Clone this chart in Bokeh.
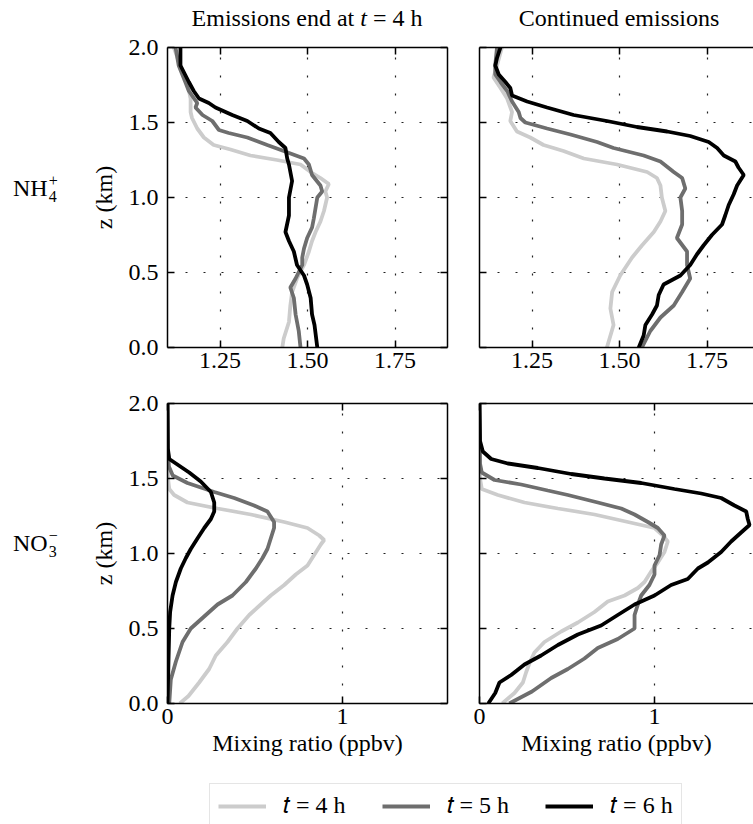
from bokeh.plotting import figure
from bokeh.models import (Div, Spacer, FixedTicker, PrintfTickFormatter, CustomJSTickFormatter,
                          LinearAxis, Range1d, Legend, LegendItem)
from bokeh.layouts import row, column
from bokeh.embed import file_html
from bokeh.resources import INLINE

FONT = "Liberation Serif"
FS = "24px"

# ---- axes ticks ---------------------------------------------------------
z_ticks = [0.0, 0.5, 1.0, 1.5, 2.0]
nh4_ticks = [1.25, 1.50, 1.75]
no3_ticks = [0, 1]

series_labels = ["𝑡 = 4 h", "𝑡 = 5 h", "𝑡 = 6 h"]
series_colors = ["#cccccc", "#6e6e6e", "#000000"]

# ---- NH4+ , emissions end at t = 4 h ------------------------------------
nh4_end_z_4h = [0.00, 0.06, 0.17, 0.28, 0.37, 0.46, 0.55, 0.64, 0.71, 0.77, 0.84, 0.91, 1.00, 1.04, 1.09,
                1.13, 1.17, 1.22, 1.25, 1.28, 1.32, 1.35, 1.40, 1.46, 1.53, 1.57, 1.66, 1.77, 1.88, 2.00]
nh4_end_x_4h = [1.428, 1.432, 1.447, 1.451, 1.456, 1.470, 1.490, 1.504, 1.513, 1.523, 1.537, 1.547, 1.556,
                1.551, 1.561, 1.537, 1.509, 1.480, 1.413, 1.337, 1.280, 1.232, 1.204, 1.185, 1.170, 1.166,
                1.166, 1.156, 1.137, 1.118]

nh4_end_z_5h = [0.00, 0.11, 0.22, 0.33, 0.40, 0.46, 0.55, 0.60, 0.66, 0.73, 0.80, 0.86, 0.93, 1.00, 1.04, 1.08,
                1.15, 1.22, 1.26, 1.31, 1.35, 1.40, 1.43, 1.45, 1.51, 1.55, 1.60, 1.63, 1.71, 1.77, 1.88, 2.00]
nh4_end_x_5h = [1.480, 1.475, 1.466, 1.461, 1.451, 1.466, 1.485, 1.485, 1.490, 1.499, 1.513, 1.518, 1.523,
                1.528, 1.542, 1.537, 1.513, 1.504, 1.490, 1.432, 1.385, 1.328, 1.275, 1.247, 1.228, 1.200,
                1.180, 1.185, 1.161, 1.151, 1.132, 1.123]

nh4_end_z_6h = [0.00, 0.15, 0.22, 0.33, 0.42, 0.48, 0.55, 0.64, 0.71, 0.77, 0.88, 1.00, 1.11, 1.22, 1.26,
                1.33, 1.37, 1.43, 1.46, 1.51, 1.55, 1.60, 1.63, 1.66, 1.71, 1.77, 1.88, 2.00]
nh4_end_x_6h = [1.528, 1.520, 1.513, 1.509, 1.499, 1.490, 1.470, 1.461, 1.447, 1.437, 1.447, 1.447, 1.456,
                1.447, 1.442, 1.437, 1.418, 1.394, 1.361, 1.328, 1.285, 1.237, 1.218, 1.190, 1.175, 1.161,
                1.137, 1.137]

# ---- NH4+ , continued emissions -----------------------------------------
nh4_cont_z_4h = [0.00, 0.15, 0.26, 0.37, 0.48, 0.60, 0.68, 0.77, 0.84, 0.91, 1.00, 1.08, 1.13, 1.17, 1.22,
                 1.26, 1.31, 1.35, 1.40, 1.44, 1.51, 1.57, 1.66, 1.73, 1.80, 1.88, 2.00]
nh4_cont_x_4h = [1.464, 1.483, 1.474, 1.479, 1.502, 1.536, 1.564, 1.598, 1.617, 1.631, 1.621, 1.617, 1.607,
                 1.579, 1.493, 1.398, 1.340, 1.283, 1.245, 1.207, 1.188, 1.193, 1.179, 1.160, 1.140, 1.150,
                 1.164]

nh4_cont_z_5h = [0.00, 0.11, 0.20, 0.28, 0.37, 0.46, 0.55, 0.64, 0.73, 0.82, 0.91, 1.00, 1.06, 1.13, 1.17,
                 1.24, 1.28, 1.33, 1.37, 1.42, 1.46, 1.50, 1.53, 1.57, 1.64, 1.71, 1.77, 1.82, 1.88, 2.00]
nh4_cont_x_5h = [1.564, 1.588, 1.617, 1.655, 1.679, 1.702, 1.693, 1.693, 1.664, 1.679, 1.679, 1.674, 1.688,
                 1.679, 1.655, 1.617, 1.569, 1.483, 1.436, 1.360, 1.293, 1.231, 1.217, 1.212, 1.193, 1.179,
                 1.160, 1.145, 1.145, 1.150]

nh4_cont_z_6h = [0.00, 0.08, 0.15, 0.22, 0.28, 0.35, 0.42, 0.48, 0.55, 0.62, 0.68, 0.75, 0.82, 0.88, 0.95,
                 1.02, 1.08, 1.15, 1.20, 1.24, 1.28, 1.33, 1.37, 1.41, 1.44, 1.47, 1.51, 1.55, 1.60, 1.64,
                 1.68, 1.73, 1.77, 1.82, 1.88, 1.93, 2.00]
nh4_cont_x_6h = [1.555, 1.569, 1.574, 1.593, 1.607, 1.612, 1.626, 1.674, 1.702, 1.721, 1.740, 1.764, 1.793,
                 1.802, 1.812, 1.826, 1.836, 1.855, 1.840, 1.831, 1.798, 1.779, 1.755, 1.702, 1.636, 1.550,
                 1.464, 1.369, 1.293, 1.236, 1.193, 1.188, 1.174, 1.155, 1.145, 1.150, 1.160]

# ---- NO3- , emissions end at t = 4 h ------------------------------------
no3_end_z_4h = [0.00, 0.05, 0.14, 0.23, 0.32, 0.41, 0.50, 0.59, 0.66, 0.72, 0.79, 0.86, 0.92, 0.99, 1.06,
                1.09, 1.12, 1.17, 1.21, 1.26, 1.30, 1.34, 1.39, 1.43, 1.50, 2.00]
no3_end_x_4h = [0.070, 0.120, 0.181, 0.238, 0.276, 0.343, 0.400, 0.467, 0.533, 0.590, 0.667, 0.733, 0.800,
                0.838, 0.876, 0.895, 0.867, 0.800, 0.667, 0.476, 0.286, 0.114, 0.038, 0.010, 0.003, 0.000]

no3_end_z_5h = [0.00, 0.16, 0.28, 0.41, 0.50, 0.59, 0.66, 0.72, 0.81, 0.90, 0.97, 1.03, 1.10, 1.17, 1.21,
                1.28, 1.32, 1.37, 1.41, 1.47, 1.52, 1.58, 1.70, 2.00]
no3_end_x_5h = [0.010, 0.019, 0.048, 0.086, 0.133, 0.219, 0.286, 0.371, 0.448, 0.505, 0.543, 0.571, 0.590,
                0.609, 0.609, 0.571, 0.495, 0.381, 0.267, 0.114, 0.030, 0.008, 0.002, 0.000]

no3_end_z_6h = [0.00, 0.50, 0.61, 0.72, 0.81, 0.90, 0.97, 1.03, 1.10, 1.17, 1.23, 1.28, 1.34, 1.41, 1.48,
                1.54, 1.60, 1.63, 1.70, 2.00]
no3_end_x_6h = [0.000, 0.010, 0.015, 0.029, 0.048, 0.076, 0.105, 0.133, 0.171, 0.210, 0.248, 0.267, 0.267,
                0.248, 0.190, 0.124, 0.048, 0.010, 0.002, 0.000]

# ---- NO3- , continued emissions -----------------------------------------
no3_cont_z_4h = [0.00, 0.07, 0.14, 0.21, 0.27, 0.34, 0.41, 0.48, 0.54, 0.61, 0.68, 0.72, 0.77, 0.81, 0.88,
                 0.94, 1.01, 1.08, 1.12, 1.17, 1.21, 1.26, 1.30, 1.34, 1.39, 1.43, 1.50, 2.00]
no3_cont_x_4h = [0.130, 0.200, 0.248, 0.267, 0.286, 0.314, 0.371, 0.467, 0.562, 0.657, 0.733, 0.829, 0.905,
                 0.943, 0.981, 1.019, 1.057, 1.076, 1.048, 1.000, 0.848, 0.657, 0.448, 0.257, 0.105, 0.013,
                 0.003, 0.000]

no3_cont_z_5h = [0.00, 0.08, 0.17, 0.23, 0.30, 0.37, 0.43, 0.50, 0.59, 0.66, 0.72, 0.79, 0.86, 0.92, 0.99,
                 1.06, 1.12, 1.17, 1.21, 1.26, 1.30, 1.34, 1.39, 1.42, 1.46, 1.49, 1.54, 1.60, 2.00]
no3_cont_x_5h = [0.170, 0.300, 0.410, 0.505, 0.600, 0.676, 0.790, 0.886, 0.886, 0.905, 0.924, 0.971, 1.000,
                 1.000, 1.029, 1.038, 1.057, 1.019, 0.962, 0.886, 0.810, 0.676, 0.505, 0.390, 0.238, 0.086,
                 0.013, 0.003, 0.000]

no3_cont_z_6h = [0.00, 0.07, 0.14, 0.19, 0.26, 0.32, 0.39, 0.46, 0.52, 0.59, 0.66, 0.72, 0.79, 0.83, 0.90,
                 0.94, 1.01, 1.08, 1.14, 1.19, 1.23, 1.28, 1.32, 1.37, 1.40, 1.43, 1.47, 1.50, 1.53, 1.57,
                 1.60, 1.63, 1.68, 1.75, 2.00]
no3_cont_x_6h = [0.050, 0.090, 0.114, 0.181, 0.257, 0.352, 0.448, 0.562, 0.695, 0.790, 0.886, 1.000, 1.095,
                 1.190, 1.248, 1.305, 1.381, 1.438, 1.495, 1.543, 1.533, 1.524, 1.457, 1.381, 1.267, 1.114,
                 0.924, 0.714, 0.524, 0.333, 0.162, 0.067, 0.019, 0.003, 0.000]


def style_axis(ax, ticks, fmt=None):
    ax.ticker = FixedTicker(ticks=ticks)
    ax.major_tick_in = 7
    ax.major_tick_out = 0
    ax.minor_tick_in = 0
    ax.minor_tick_out = 0
    ax.major_tick_line_width = 1.5
    ax.major_tick_line_color = "black"
    ax.minor_tick_line_color = None
    ax.axis_line_width = 1.5
    ax.axis_line_color = "black"
    if fmt is None:
        # tick marks only, no labels
        ax.formatter = CustomJSTickFormatter(code="return ''")
        ax.major_label_text_color = None
        ax.major_label_standoff = 0
    else:
        ax.formatter = PrintfTickFormatter(format=fmt)
        ax.major_label_text_font = FONT
        ax.major_label_text_font_size = FS
        ax.major_label_text_color = "black"


def style_label(ax, text, standoff):
    ax.axis_label = text
    ax.axis_label_text_font = FONT
    ax.axis_label_text_font_size = FS
    ax.axis_label_text_font_style = "normal"
    ax.axis_label_text_color = "black"
    ax.axis_label_standoff = standoff


def panel(curves, x_range, x_ticks, x_fmt, left, bottom):
    p = figure(frame_width=280 if left else 274, frame_height=300,
               x_range=Range1d(*x_range), y_range=Range1d(0, 2),
               toolbar_location=None, output_backend="svg", title_location=None,
               min_border_left=100 if left else 16, min_border_right=16 if left else 0,
               min_border_top=20, min_border_bottom=80 if bottom else 36)
    p.outline_line_color = None
    p.background_fill_color = "white"
    p.border_fill_color = "white"

    xa = p.xaxis[0]
    style_axis(xa, x_ticks, x_fmt)
    xa.major_label_standoff = 5
    if bottom:
        style_label(xa, "Mixing ratio (ppbv)", 3)

    ya = p.yaxis[0]
    if left:
        style_axis(ya, z_ticks, "%.1f")
        ya.major_label_standoff = 9
        style_label(ya, "z (km)", 9)
    else:
        style_axis(ya, z_ticks)

    top = LinearAxis()
    style_axis(top, x_ticks)
    p.add_layout(top, "above")
    if left:
        right = LinearAxis()
        style_axis(right, z_ticks)
        p.add_layout(right, "right")

    for g in p.grid:
        g.grid_line_color = "#222222"
        g.grid_line_width = 1.2
        g.grid_line_dash = "2 16"

    for (xs, zs), color in zip(curves, series_colors):
        p.line(xs, zs, line_color=color, line_width=3.8)
    return p


tl = panel([(nh4_end_x_4h, nh4_end_z_4h), (nh4_end_x_5h, nh4_end_z_5h), (nh4_end_x_6h, nh4_end_z_6h)],
           (1.1, 1.9), nh4_ticks, "%.2f", True, False)
tr = panel([(nh4_cont_x_4h, nh4_cont_z_4h), (nh4_cont_x_5h, nh4_cont_z_5h), (nh4_cont_x_6h, nh4_cont_z_6h)],
           (1.1, 1.1 + 274 / 350), nh4_ticks, "%.2f", False, False)
bl = panel([(no3_end_x_4h, no3_end_z_4h), (no3_end_x_5h, no3_end_z_5h), (no3_end_x_6h, no3_end_z_6h)],
           (0, 1.6), no3_ticks, "%d", True, True)
br = panel([(no3_cont_x_4h, no3_cont_z_4h), (no3_cont_x_5h, no3_cont_z_5h), (no3_cont_x_6h, no3_cont_z_6h)],
           (0, 274 / 175), no3_ticks, "%d", False, True)

# ---- shared legend strip ------------------------------------------------
lf = figure(width=753, height=41, x_range=Range1d(10, 11), y_range=Range1d(10, 11),
            toolbar_location=None, output_backend="svg", x_axis_type=None, y_axis_type=None,
            title_location=None, min_border=0)
lf.outline_line_color = None
lf.grid.visible = False
items = []
for (xs, zs), color, label in zip([(no3_end_x_4h, no3_end_z_4h), (no3_end_x_5h, no3_end_z_5h),
                                   (no3_end_x_6h, no3_end_z_6h)], series_colors, series_labels):
    r = lf.line(xs, zs, line_color=color, line_width=3.8)
    items.append(LegendItem(label=label, renderers=[r]))
legend = Legend(items=items, orientation="horizontal", location=(209, -4),
                label_text_font=FONT, label_text_font_size=FS, label_text_color="black",
                glyph_width=48, glyph_height=20, label_standoff=17, spacing=36,
                padding=8, margin=0, border_line_color="#cccccc", border_line_width=1.5,
                background_fill_color="white", background_fill_alpha=1.0)
lf.add_layout(legend)

# ---- text blocks --------------------------------------------------------
text_style = {"font-family": FONT, "font-size": FS, "color": "black", "line-height": "1"}

t1 = Div(text='<div style="width:280px;text-align:center;padding-top:6px">Emissions end at <i>t</i> = 4 h</div>',
         width=280, height=27, margin=0, styles=text_style)
t2 = Div(text='<div style="width:280px;text-align:center;padding-top:6px">Continued emissions</div>',
         width=274, height=27, margin=0, styles=text_style)

stack = ('<span style="display:inline-flex;flex-direction:column;font-size:16px;line-height:16px;'
         'vertical-align:10px;margin-left:1px"><span>{sup}</span><span>{sub}</span></span>')
lab1 = Div(text='<div style="padding-top:146px;padding-left:13px">NH' + stack.format(sup="+", sub="4") + '</div>',
           width=67, height=356, margin=0, styles=text_style)
lab2 = Div(text='<div style="padding-top:145px;padding-left:13px">NO' + stack.format(sup="\u2212", sub="3") + '</div>',
           width=67, height=400, margin=0, styles=text_style)

layout = column(
    row(Spacer(width=167, height=27, margin=0), t1, Spacer(width=32, height=27, margin=0), t2),
    row(lab1, tl, tr),
    row(lab2, bl, br),
    lf,
)

open("out.html", "w").write(file_html(layout, INLINE))
